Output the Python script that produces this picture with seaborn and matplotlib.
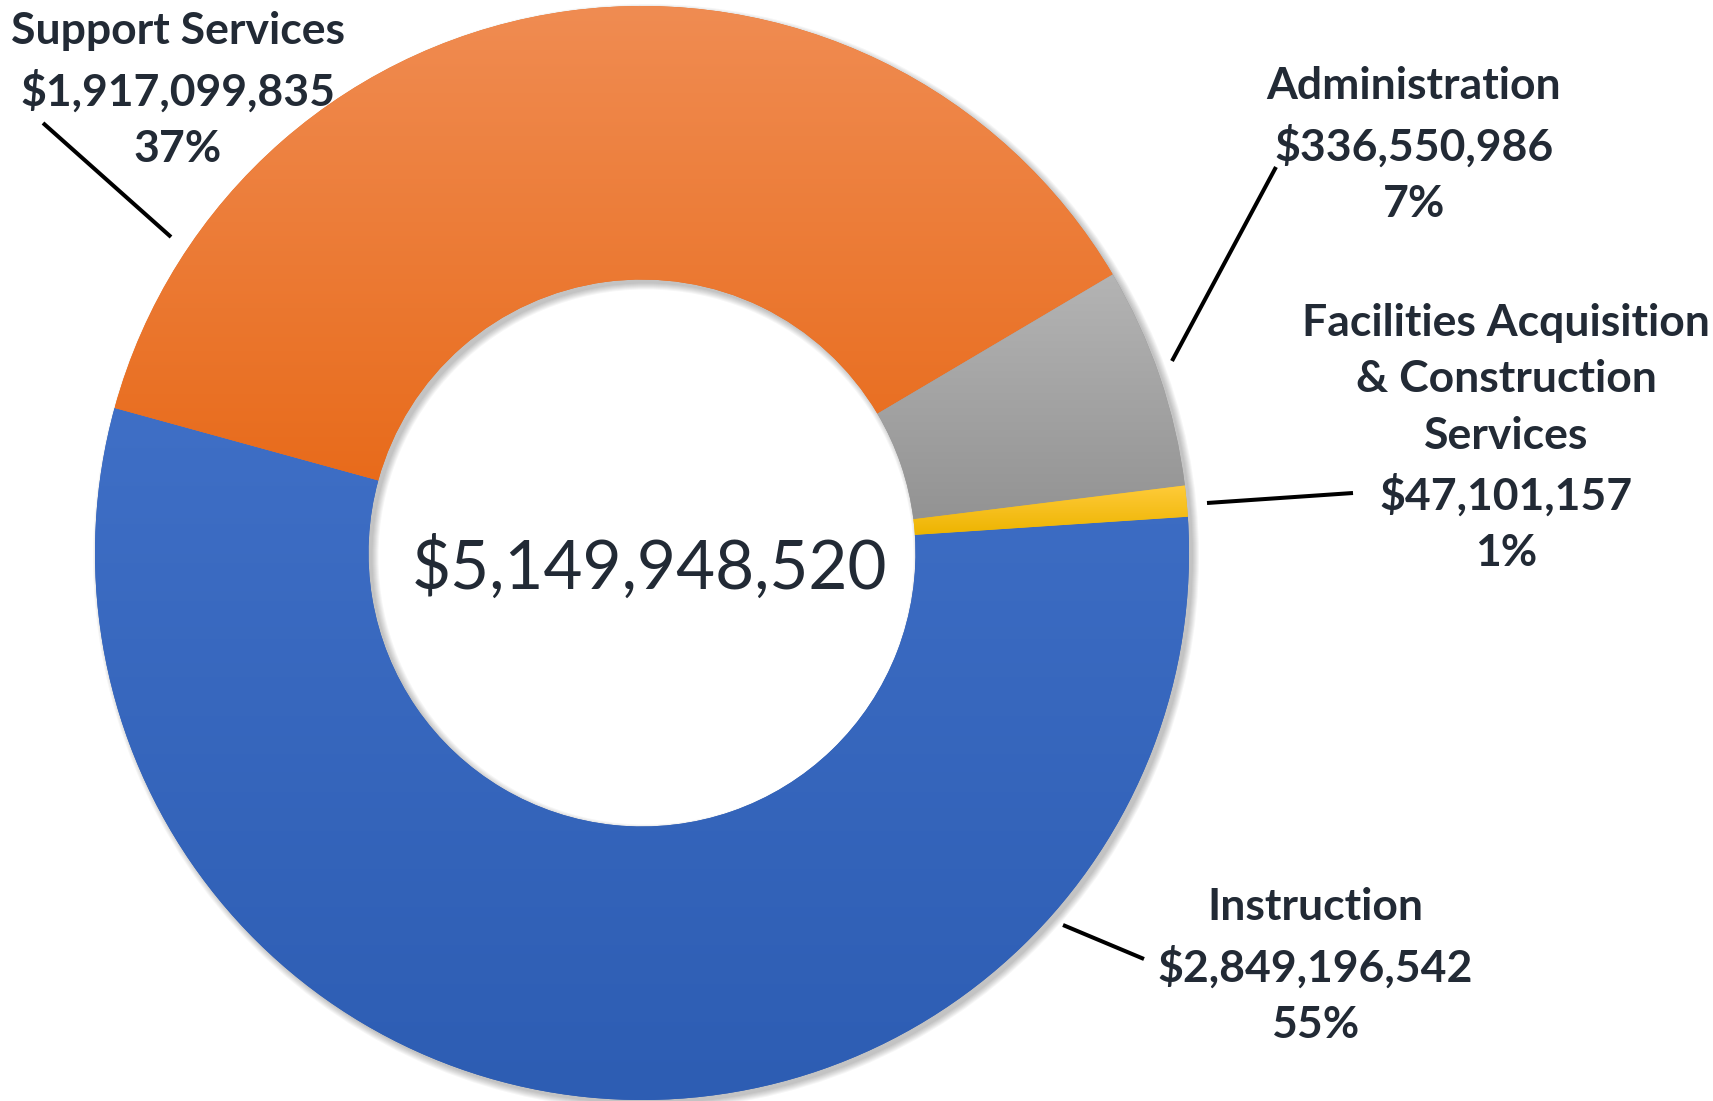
import numpy as np
import matplotlib
matplotlib.use("Agg")
import matplotlib.pyplot as plt
import matplotlib.colors as mcolors
from matplotlib.patches import Wedge
import seaborn as sns

# ---------- DATA ----------
categories = [
    "Instruction",
    "Support Services",
    "Administration",
    "Facilities Acquisition\n& Construction\nServices",
]
amounts = [2849196542, 1917099835, 336550986, 47101157]
total_label = "$5,149,948,520"

# slice colours, top and bottom of the vertical gradient
top_colors = ["#3F6FC6", "#F08C52", "#B4B4B4", "#FFCB3A"]
bottom_colors = ["#2D5DB3", "#E86B1B", "#939393", "#EDB400"]

# ---------- LAYOUT (pixel coords, y from the top) ----------
W, H = 1713, 1101
center_px = (642, 553)
radius_px = 547
label_pos = [(1315, 966), (178, 90), (1414, 145), (1506, 438)]
leader_lines = [
    ((1063, 925), (1144, 959)),
    ((43, 123), (171, 237)),
    ((1276, 167), (1172, 361)),
    ((1207, 503), (1353, 493)),
]
text_color = "#222A35"

sns.set_theme(style="white")
plt.rcParams["font.family"] = ["Lato", "DejaVu Sans"]


def fy(y):
    return H - y


fig = plt.figure(figsize=(W / 100, H / 100), dpi=100)
ax = fig.add_axes([0, 0, 1, 1])

cx, cy = center_px[0], fy(center_px[1])

# ---------- SOFT SHADOW BEHIND THE RING ----------
for k in range(7):
    ax.add_patch(Wedge((cx + 4, cy - 4), radius_px + k, 0, 360,
                       width=radius_px * 0.5 + 2 * k,
                       facecolor="black", edgecolor="none", alpha=0.035, zorder=0))

wedges, _ = ax.pie(
    amounts,
    colors=bottom_colors,
    startangle=3.8,
    counterclock=False,
    center=(cx, cy),
    radius=radius_px,
    wedgeprops=dict(width=radius_px * 0.5, linewidth=0),
    frame=True,
)

# ---------- GRADIENT FILL PER SLICE ----------
for w, c_top, c_bot in zip(wedges, top_colors, bottom_colors):
    bb = w.get_path().get_extents()
    t = np.linspace(0, 1, 256)[:, None]
    rgb_top = np.array(mcolors.to_rgb(c_top))
    rgb_bot = np.array(mcolors.to_rgb(c_bot))
    grad = (rgb_bot + (rgb_top - rgb_bot) * t)[:, None, :]
    im = ax.imshow(grad, extent=(bb.x0, bb.x1, bb.y0, bb.y1), origin="lower",
                   aspect="auto", zorder=w.get_zorder() + 0.1, interpolation="bilinear")
    im.set_clip_path(w)

# ---------- LABELS ----------
total = sum(amounts)
for cat, amt, (lx, ly) in zip(categories, amounts, label_pos):
    pct = round(amt / total * 100)
    ax.text(lx, fy(ly), f"{cat}\n${amt:,}\n{pct}%", ha="center", va="center",
            fontsize=32, fontweight="bold", color=text_color, linespacing=1.5,
            multialignment="center")

for (x0, y0), (x1, y1) in leader_lines:
    ax.plot([x0, x1], [fy(y0), fy(y1)], color="black", lw=2.9, solid_capstyle="butt")

ax.text(649, fy(568), total_label, ha="center", va="center", fontsize=48.5,
        color=text_color)

ax.set_xlim(0, W)
ax.set_ylim(0, H)
ax.set_aspect("equal")
ax.axis("off")

fig.savefig("out.png", dpi=100)
